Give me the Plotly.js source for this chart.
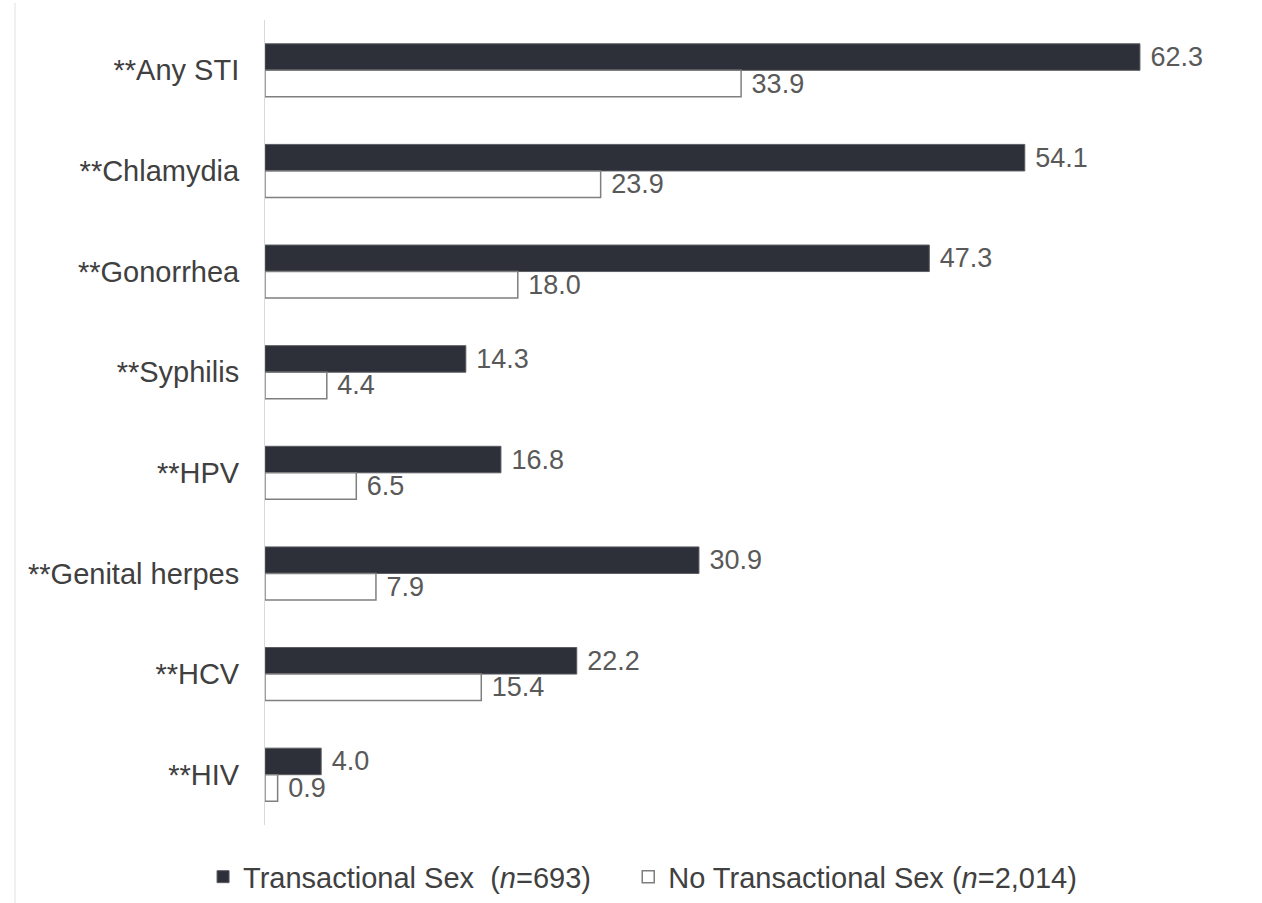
<!DOCTYPE html>
<html>
<head>
<meta charset="utf-8">
<script src="https://cdn.plot.ly/plotly-3.0.1.min.js"></script>
<style>
  html, body { margin: 0; padding: 0; background: #ffffff; }
  #chart { width: 1262px; height: 903px; }
</style>
</head>
<body>
<div id="chart"></div>
<script>
// Prevalence (%) of each infection by transactional sex status
const categories = ['**Any STI', '**Chlamydia', '**Gonorrhea', '**Syphilis', '**HPV', '**Genital herpes', '**HCV', '**HIV'];
const transactional = [62.3, 54.1, 47.3, 14.3, 16.8, 30.9, 22.2, 4.0];
const noTransactional = [33.9, 23.9, 18.0, 4.4, 6.5, 7.9, 15.4, 0.9];
const seriesNames = [
  'Transactional Sex\u00a0\u00a0(<i>n</i>=693)\u00a0\u00a0\u00a0\u00a0',
  'No Transactional Sex\u00a0(<i>n</i>=2,014)'
];

const FONT = 'Liberation Sans, Arial, sans-serif';
const valueFont = { family: FONT, size: 27, color: '#595959' };

const traces = [
  {
    type: 'bar', orientation: 'h', name: seriesNames[0],
    y: categories, x: transactional,
    marker: { color: '#2d3038', line: { color: '#5a5c62', width: 1 } },
    text: transactional.map(v => '\u00a0' + v.toFixed(1)),
    textposition: 'outside', textfont: valueFont,
    constraintext: 'none', cliponaxis: false, hoverinfo: 'skip'
  },
  {
    type: 'bar', orientation: 'h', name: seriesNames[1],
    y: categories, x: noTransactional,
    marker: { color: '#ffffff', line: { color: '#7f7f7f', width: 1.5 } },
    text: noTransactional.map(v => '\u00a0' + v.toFixed(1)),
    textposition: 'outside', textfont: valueFont,
    constraintext: 'none', cliponaxis: false, hoverinfo: 'skip'
  }
];

const layout = {
  width: 1262, height: 903,
  paper_bgcolor: '#ffffff', plot_bgcolor: '#ffffff',
  margin: { l: 265, r: 42, t: 20, b: 78 },
  barmode: 'group', bargap: 0.473, bargroupgap: 0,
  font: { family: FONT, color: '#404040' },
  xaxis: {
    range: [0, 68], visible: false, fixedrange: true
  },
  yaxis: {
    type: 'category', categoryorder: 'array', categoryarray: categories,
    autorange: 'reversed',
    showline: true, linecolor: '#d9d9d9', linewidth: 1,
    showgrid: false, zeroline: false, ticks: '',
    ticklabelstandoff: 19,
    tickfont: { family: FONT, size: 29, color: '#404040' }
  },
  showlegend: true,
  legend: {
    orientation: 'h', xref: 'container', yref: 'container',
    x: 0.1609, xanchor: 'left', y: 0.029, yanchor: 'middle',
    font: { family: FONT, size: 29, color: '#404040' },
    traceorder: 'normal', bgcolor: 'rgba(0,0,0,0)'
  },
  shapes: [
    {
      type: 'line', xref: 'paper', yref: 'paper',
      x0: -0.2618, x1: -0.2618, y0: -0.097, y1: 1.021,
      line: { color: '#f0f0f0', width: 2 }
    }
  ]
};

Plotly.newPlot('chart', traces, layout, { displayModeBar: false, staticPlot: true });
</script>
</body>
</html>
